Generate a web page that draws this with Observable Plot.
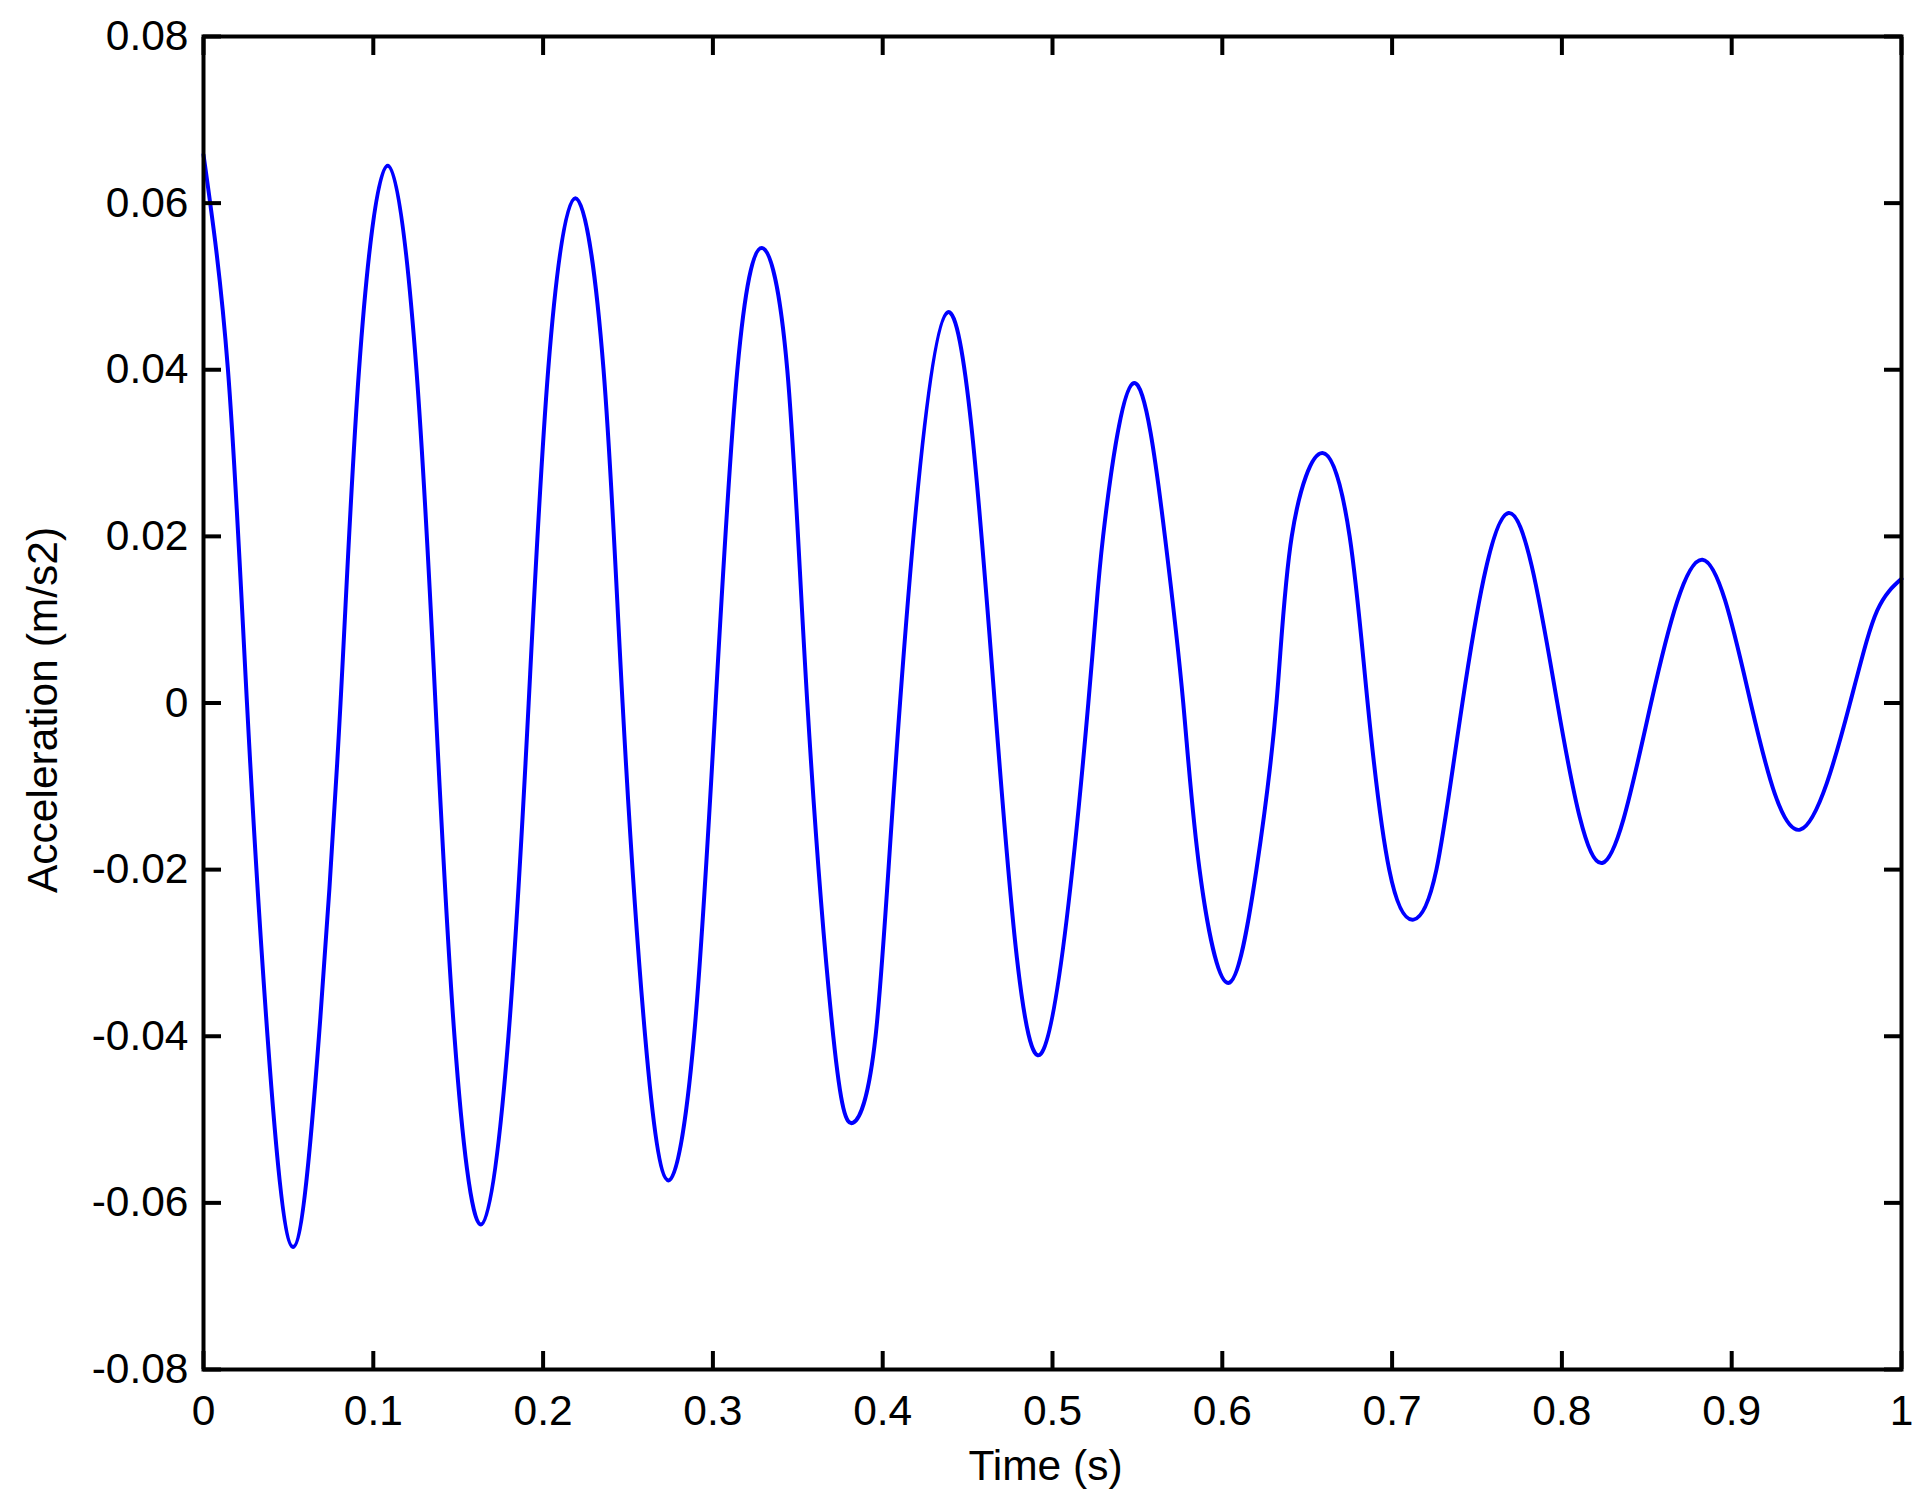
<!DOCTYPE html>
<html>
<head>
<meta charset="utf-8">
<script src="https://cdn.jsdelivr.net/npm/d3@7"></script>
<script src="https://cdn.jsdelivr.net/npm/@observablehq/plot@0.6"></script>
<style>
  html, body { margin: 0; padding: 0; background: #fff; overflow: hidden; }
  svg { display: block; }
</style>
</head>
<body>
<div id="chart"></div>
<script>
// Values
const timeS = [0, 0.0144, 0.0256, 0.0377, 0.0527, 0.0680, 0.0807, 0.0916, 0.1085, 0.1254,
  0.1366, 0.1478, 0.1634, 0.1796, 0.1915, 0.2030, 0.2190, 0.2356, 0.2468, 0.2601,
  0.2739, 0.2889, 0.3016, 0.3144, 0.3288, 0.3438, 0.3556, 0.3709, 0.3824, 0.3958,
  0.4102, 0.4383, 0.4660, 0.4932, 0.5211, 0.5298, 0.5477, 0.5662,
  0.5770, 0.5866, 0.6035, 0.6201, 0.6319, 0.6409, 0.6590, 0.6750, 0.6856, 0.6983,
  0.7126, 0.7261, 0.7414, 0.7686, 0.7973, 0.8238, 0.8525, 0.8828,
  0.9112, 0.9403, 0.9697, 0.9857, 1.0];
const accel = [0.0658, 0.040, 0, -0.040, -0.0653, -0.040, 0, 0.040, 0.0645, 0.040,
  0, -0.040, -0.0626, -0.040, 0, 0.040, 0.0606, 0.040, 0, -0.040,
  -0.0573, -0.040, 0, 0.040, 0.0546, 0.040, 0, -0.040, -0.0504, -0.040,
  0, 0.0469, 0, -0.0421, 0, 0.020, 0.0384, 0.020,
  0, -0.020, -0.0336, -0.020, 0, 0.020, 0.0300, 0.020, 0, -0.020,
  -0.0260, -0.020, 0, 0.0228, 0, -0.0192, 0, 0.0172,
  0, -0.0152, 0, 0.0111, 0.0149];

const xTicks = [0, 0.1, 0.2, 0.3, 0.4, 0.5, 0.6, 0.7, 0.8, 0.9, 1];
const xTickLabels = ["0", "0.1", "0.2", "0.3", "0.4", "0.5", "0.6", "0.7", "0.8", "0.9", "1"];
const yTicks = [-0.08, -0.06, -0.04, -0.02, 0, 0.02, 0.04, 0.06, 0.08];
const yTickLabels = ["-0.08", "-0.06", "-0.04", "-0.02", "0", "0.02", "0.04", "0.06", "0.08"];
const xLabel = "Time (s)";
const yLabel = "Acceleration (m/s2)";

const data = timeS.map((t, i) => ({t, a: accel[i]}));
const lab = (ticks, labels) => d => labels[ticks.findIndex(v => Math.abs(v - d) < 1e-9)];
const blank = () => "";

const chart = Plot.plot({
  width: 1929,
  height: 1497,
  marginLeft: 203,
  marginRight: 28,
  marginTop: 36,
  marginBottom: 128,
  style: {fontFamily: "'Liberation Sans', Arial, Helvetica, sans-serif", fontSize: "42.5px", background: "#fff", color: "#000"},
  x: {domain: [0, 1]},
  y: {domain: [-0.08, 0.08]},
  marks: [
    Plot.line(data, {x: "t", y: "a", curve: "natural", stroke: "#0000ff", strokeWidth: 4}),
    Plot.axisX(xTicks, {anchor: "bottom", tickSize: -18, tickPadding: 43, tickFormat: lab(xTicks, xTickLabels), label: null, strokeWidth: 4}),
    Plot.axisX(xTicks, {anchor: "top", tickSize: -18, tickFormat: blank, label: null, strokeWidth: 4}),
    Plot.axisY(yTicks, {anchor: "left", tickSize: -18, tickPadding: 33, tickFormat: lab(yTicks, yTickLabels), label: null, strokeWidth: 4}),
    Plot.axisY(yTicks, {anchor: "right", tickSize: -18, tickFormat: blank, label: null, strokeWidth: 4}),
    Plot.frame({stroke: "#000", strokeWidth: 4}),
    Plot.text([xLabel], {frameAnchor: "bottom", dx: -7, dy: 110, lineAnchor: "bottom"}),
    Plot.text([yLabel], {frameAnchor: "left", textAnchor: "middle", rotate: -90, dx: -147, dy: 7, lineAnchor: "bottom"})
  ]
});
document.getElementById("chart").appendChild(chart);
</script>
</body>
</html>
